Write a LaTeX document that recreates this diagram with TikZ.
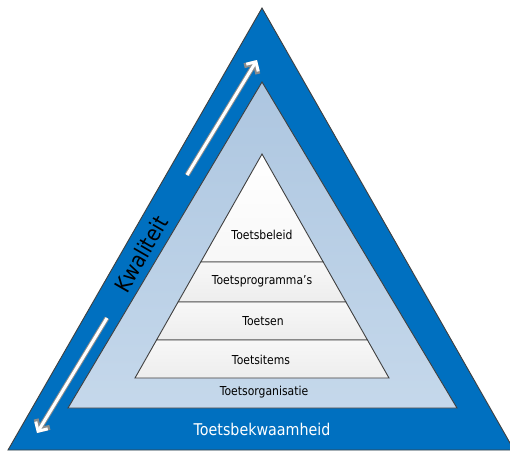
\documentclass[tikz,border=0pt]{standalone}
\usepackage{fontspec}
\setmainfont{DejaVu Sans}[FakeStretch=0.88]
\usetikzlibrary{calc,arrows.meta}
\definecolor{dblue}{HTML}{0070C0}
\definecolor{ltop}{HTML}{ADC6E0}
\definecolor{lbot}{HTML}{C5D8EB}
\definecolor{edgegray}{HTML}{404040}
\tikzset{
  tri/.style={draw=edgegray, line width=0.9pt},
  lvltext/.style={font=\fontsize{12.3}{14}\selectfont, text=black, inner sep=0pt},
  band/.style={tri, top color=black!3, bottom color=black!7},
  arrowback/.style={draw=black!45, line width=5pt, -{Straight Barb[length=8pt,width=16pt]}},
  arrowfront/.style={draw=white, line width=3pt, -{Straight Barb[length=7pt,width=14pt]}}
}
\begin{document}
\begin{tikzpicture}[x=1pt,y=-1pt]
\useasboundingbox (0,0) rectangle (510,451);
% outer triangle
\coordinate (oA) at (262,8);
\coordinate (oL) at (8,450);
\coordinate (oR) at (514,450);
\fill[dblue] (oA) -- (oL) -- (oR) -- cycle;
\draw[tri] (oR) -- (oA) -- (oL) -- (oR);
% middle triangle
\coordinate (mA) at (262,82);
\coordinate (mL) at (68,408);
\coordinate (mR) at (457,408);
\draw[tri, top color=ltop, bottom color=lbot] (mA) -- (mL) -- (mR) -- cycle;
% inner pyramid
\coordinate (pA) at (262,154);
\coordinate (pL) at (135,378);
\coordinate (pR) at (389,378);
\coordinate (l1) at ($(pA)!108/224!(pL)$);
\coordinate (r1) at ($(pA)!108/224!(pR)$);
\coordinate (l2) at ($(pA)!148/224!(pL)$);
\coordinate (r2) at ($(pA)!148/224!(pR)$);
\coordinate (l3) at ($(pA)!186/224!(pL)$);
\coordinate (r3) at ($(pA)!186/224!(pR)$);
\draw[tri, top color=white, bottom color=black!3] (pA) -- (l1) -- (r1) -- cycle;
\draw[band] (l1) -- (l2) -- (r2) -- (r1) -- cycle;
\draw[band] (l2) -- (l3) -- (r3) -- (r2) -- cycle;
\draw[band] (l3) -- (pL) -- (pR) -- (r3) -- cycle;
% texts
\node[lvltext] (t1) at (262,235) {Toetsbeleid};
\node[lvltext] (t2) at (262,281) {Toetsprogramma’s};
\node[lvltext] (t3) at (263,321) {Toetsen};
\node[lvltext] (t4) at (261,360) {Toetsitems};
\node[lvltext] (t5) at (264,392) {Toetsorganisatie};
\node[font=\fontsize{16.2}{19}\selectfont, text=white, inner sep=0pt] (t6) at (262,429) {Toetsbekwaamheid};
\node[font=\fontsize{22}{25}\selectfont, text=black, inner sep=0pt, rotate=60] (kw) at (141,254) {Kwaliteit};
% arrows
\coordinate (a1s) at (187,175);
\coordinate (a1e) at (257,60);
\coordinate (a2s) at (107,318);
\coordinate (a2e) at (37,433);
\draw[arrowback] (a1s) -- (a1e);
\draw[arrowfront] (a1s) -- (a1e);
\draw[arrowback] (a2s) -- (a2e);
\draw[arrowfront] (a2s) -- (a2e);
\end{tikzpicture}
\end{document}
